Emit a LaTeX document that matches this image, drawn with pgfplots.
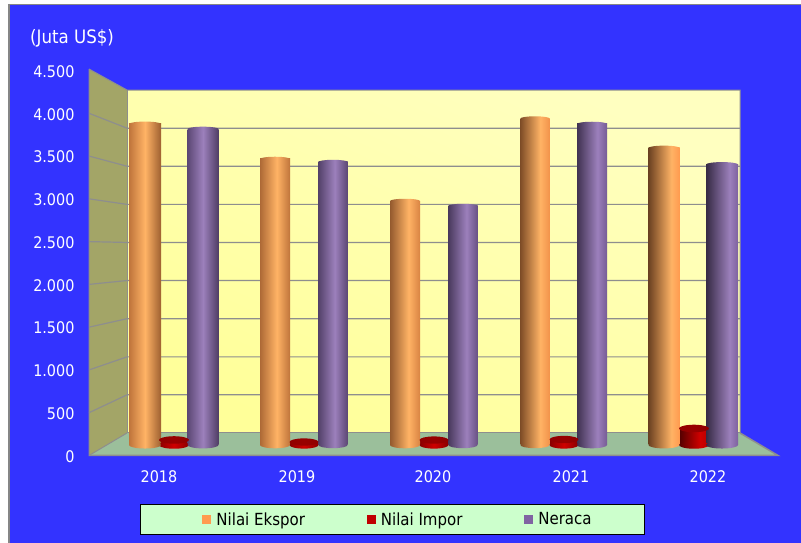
\documentclass[border=0pt]{standalone}
\usepackage{pgfplots}
\pgfplotsset{compat=1.18}
\usepackage{fontspec}
\setmainfont{DejaVu Sans Condensed}
\definecolor{bgblue}{HTML}{3333FF}
\definecolor{bordergray}{HTML}{868686}
\definecolor{sidewall}{HTML}{A3A567}
\definecolor{floorc}{HTML}{9BBF9B}
\definecolor{gridc}{HTML}{8E8E8E}
\definecolor{wallb}{HTML}{FFFF99}
\definecolor{wallt}{HTML}{FFFFC0}
\definecolor{ob}{HTML}{FF9B4F}
\definecolor{oh}{HTML}{FFB365}
\definecolor{pb}{HTML}{8064A2}
\definecolor{ph}{HTML}{9C80BC}
\definecolor{rb}{HTML}{C00000}
\definecolor{rh}{HTML}{D00000}
\definecolor{rt}{HTML}{980000}
\definecolor{legbg}{HTML}{CCFFCC}
% name, base, highlight, left %, highlight position (bp), right %
\newcommand\defcyl[6]{%
  \pgfdeclarehorizontalshading{#1}{100bp}{color(0bp)=(#2!#4!black); color(25bp)=(#2!#4!black); color(#5bp)=(#3); color(75bp)=(#2!#6!black); color(100bp)=(#2!#6!black)}%
  \pgfdeclareplotmark{#1}{\pgfpathcircle{\pgfpointorigin}{\pgfplotmarksize}\pgfshadepath{#1}{0}\pgfusepath{discard}}%
}
\defcyl{oA}{ob}{oh}{75}{50}{62}
\defcyl{oB}{ob}{oh}{68}{53}{75}
\defcyl{oC}{ob}{oh}{58}{56}{85}
\defcyl{oD}{ob}{oh}{50}{59}{95}
\defcyl{oE}{ob}{oh}{42}{62}{100}
\defcyl{pA}{pb}{ph}{72}{50}{62}
\defcyl{pB}{pb}{ph}{66}{53}{72}
\defcyl{pC}{pb}{ph}{58}{56}{82}
\defcyl{pD}{pb}{ph}{50}{59}{92}
\defcyl{pE}{pb}{ph}{42}{62}{98}
\defcyl{rA}{rb}{rh}{70}{50}{70}
\defcyl{rE}{rb}{rh}{42}{60}{95}
\defcyl{rT}{rt}{rt}{95}{50}{95}
% x, value, shift, width, shade, top shade, rotation, top yscale, bottom yscale
\newcommand\cyl[9]{%
  \addplot[forget plot,only marks,mark=#5,mark size=#4/2*1pt,mark options={xshift=#3pt,yscale=#9,rotate=#7}] coordinates {(#1,0)};
  \addplot[forget plot,ybar,bar width=#4pt,bar shift=#3pt,draw=none,shade,shading=#5] coordinates {(#1,#2)};
  \addplot[forget plot,only marks,mark=#6,mark size=#4/2*1pt,mark options={xshift=#3pt,yscale=#8,rotate=#7}] coordinates {(#1,#2)};
}
\begin{document}
\begin{tikzpicture}[x=1pt,y=1pt]
\useasboundingbox (0,0) rectangle (801,543);
\fill[white] (0,0) rectangle (801,543);
\fill[bgblue] (9,0) rectangle (801,538);
\draw[bordergray,line width=1.6pt] (8.7,0) -- (8.7,538.5) -- (801,538.5);
\node[anchor=west,text=white,font=\fontsize{18.5}{21}\selectfont,inner sep=0pt] at (30,504.5) {(Juta US\$)};
% frame of the chart: x in pixels, y on the front scale
\begin{axis}[
  at={(89pt,87.5pt)},anchor=south west,
  scale only axis,width=689pt,height=385pt,
  xmin=89,xmax=778,ymin=0,ymax=4500,
  clip=false,
  axis line style={draw=none},
  major tick length=0pt,
  xtick={159,297,433,571,708},
  xticklabels={2018,2019,2020,2021,2022},
  ytick={0,500,1000,1500,2000,2500,3000,3500,4000,4500},
  /pgf/number format/assume math mode=true,
  /pgf/number format/.cd,1000 sep={.},
  /pgfplots/.cd,
  tick label style={text=white,font=\fontsize{16}{19}\selectfont},
  yticklabel style={xshift=-11pt,yshift=-1pt},
  xticklabel style={yshift=-12pt},
]
\addplot[shade,draw=none,bottom color=wallb,top color=wallt,shading angle=-25] coordinates {(127,263) (127,4272) (740,4272) (740,263)} -- cycle;
\addplot[fill=sidewall,draw=none] coordinates {(89,0) (127,263) (127,4272) (89,4517)} -- cycle;
\addplot[fill=floorc,draw=none] coordinates {(89,0) (127,263) (740,263) (778,0)} -- cycle;
\addplot[gridc,line width=1.2pt] coordinates {(89,500) (127,709) (740,709)};
\addplot[gridc,line width=1.2pt] coordinates {(89,1000) (127,1153) (740,1153)};
\addplot[gridc,line width=1.2pt] coordinates {(89,1500) (127,1599) (740,1599)};
\addplot[gridc,line width=1.2pt] coordinates {(89,2000) (127,2045) (740,2045)};
\addplot[gridc,line width=1.2pt] coordinates {(89,2500) (127,2490) (740,2490)};
\addplot[gridc,line width=1.2pt] coordinates {(89,3000) (127,2935) (740,2935)};
\addplot[gridc,line width=1.2pt] coordinates {(89,3500) (127,3381) (740,3381)};
\addplot[gridc,line width=1.2pt] coordinates {(89,4000) (127,3826) (740,3826)};
\addplot[gridc,line width=1pt] coordinates {(89,4517) (127,4272) (740,4272) (740,263)};
\addplot[gridc,line width=1pt] coordinates {(127,4272) (127,263) (740,263)};
\addplot[gridc,line width=1pt] coordinates {(89,4517) (89,0) (127,263)};
\addplot[gridc,line width=1.5pt] coordinates {(89,0) (778,0) (740,263)};
\end{axis}
% bars: categories on x, values on the scale of the plane of the bars
\begin{axis}[
  at={(109pt,98pt)},anchor=south west,
  scale only axis,width=650pt,height=364.5pt,
  xmin=-0.5,xmax=4.5,ymin=0,ymax=4500,
  clip=false,hide axis,
  legend columns=3,
  legend cell align=left,
  legend style={
    at={(0.4362,-0.2044)},anchor=center,
    draw=black,line width=1.5pt,fill=legbg,
    inner xsep=51pt,inner ysep=6pt,
    font=\fontsize{16.7}{19}\selectfont,text=black,
    /tikz/column 2/.style={column sep=59.5pt},
    /tikz/column 4/.style={column sep=59.5pt},
  },
]
\addlegendimage{legend image code/.code={\path (-10pt,0) (11.5pt,0);\fill[ob,draw=none] (0pt,-4.5pt) rectangle (9pt,4.5pt);}}
\addlegendentry{Nilai Ekspor}
\addlegendimage{legend image code/.code={\path (11.5pt,0);\fill[rb,draw=none] (0pt,-4.5pt) rectangle (9pt,4.5pt);}}
\addlegendentry{Nilai Impor}
\addlegendimage{legend image code/.code={\path (11.5pt,0);\fill[pb,draw=none] (0pt,-4.5pt) rectangle (9pt,4.5pt);}}
\addlegendentry{Neraca}
% Nilai Impor
\cyl{0}{62}{0}{30}{rA}{rT}{7}{.25}{.25}
\cyl{1}{37}{0}{29}{rA}{rT}{3}{.25}{.25}
\cyl{2}{61}{0}{29}{rA}{rT}{0}{.25}{.25}
\cyl{3}{68}{0}{29}{rA}{rT}{-4}{.25}{.25}
\cyl{4}{204}{0}{30}{rE}{rT}{-6}{.25}{.25}
% Nilai Ekspor
\cyl{0}{3963}{-29}{32}{oA}{oA}{0}{.15}{.22}
\cyl{1}{3531}{-29}{30}{oB}{oB}{0}{.15}{.22}
\cyl{2}{3012}{-29}{30}{oC}{oC}{0}{.15}{.22}
\cyl{3}{4031}{-29}{29}{oD}{oD}{0}{.15}{.22}
\cyl{4}{3667}{-30}{31}{oE}{oE}{0}{.15}{.22}
% Neraca
\cyl{0}{3901}{29}{31}{pA}{pA}{0}{.15}{.22}
\cyl{1}{3494}{29}{29}{pB}{pB}{0}{.15}{.22}
\cyl{2}{2951}{29}{29}{pC}{pC}{0}{.15}{.22}
\cyl{3}{3963}{28}{30}{pD}{pD}{0}{.15}{.22}
\cyl{4}{3463}{28}{32}{pE}{pE}{0}{.15}{.22}
\end{axis}
\end{tikzpicture}
\end{document}
